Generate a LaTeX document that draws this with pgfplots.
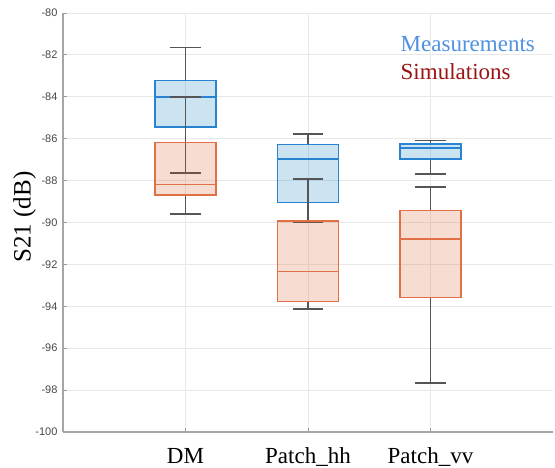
\documentclass[border=0pt]{standalone}
\usepackage{pgfplots}
\pgfplotsset{compat=1.18}
\usepgfplotslibrary{statistics}
\usepackage{fontspec}
\setmainfont{Liberation Serif}
\newfontfamily\ticksans{Liberation Sans}

\definecolor{mblue}{RGB}{0,114,189}
\definecolor{mblueedge}{RGB}{40,132,208}
\definecolor{sorange}{RGB}{217,83,25}
\definecolor{sorangeedge}{RGB}{226,112,70}
\definecolor{wgray}{RGB}{85,85,85}
\definecolor{legblue}{RGB}{80,145,225}
\definecolor{legred}{RGB}{155,20,20}

\pgfplotsset{
  meas/.style={solid, mark=none, draw=mblueedge, fill=mblue, fill opacity=0.2, line width=1.5bp,
    boxplot/every median/.style={draw=mblueedge, line width=1.6bp}},
  simu/.style={solid, mark=none, draw=sorangeedge, fill=sorange, fill opacity=0.2, line width=1.5bp,
    boxplot/every median/.style={draw=sorangeedge, line width=1.6bp}},
  whisk/.style={boxplot/every whisker/.style={draw=wgray, line width=1.7bp}},
}

\begin{document}
\begin{tikzpicture}
% page frame
\path[use as bounding box] (-63bp,-36bp) rectangle (492bp,432bp);
\begin{axis}[
  at={(0,0)}, anchor=south west, scale only axis,
  width=490bp, height=419bp,
  xmin=0, xmax=4, ymin=-100, ymax=-80,
  xtick={1,2,3}, xticklabels={DM,Patch\_hh,Patch\_vv},
  ytick={-100,-98,-96,-94,-92,-90,-88,-86,-84,-82,-80},
  yticklabels={-100,-98,-96,-94,-92,-90,-88,-86,-84,-82,-80},
  axis x line*=bottom, axis y line*=left,
  axis line style={black!35, line width=1.3bp},
  tick align=inside, major tick length=4bp,
  tick style={black!40, line width=0.8bp},
  grid=major, major grid style={black!9, line width=0.9bp},
  /pgf/number format/assume math mode=true,
  yticklabel style={font=\ticksans\fontsize{11bp}{13bp}\selectfont, text=black!72, xshift=-2bp},
  xticklabel style={font=\fontsize{23bp}{27bp}\selectfont, anchor=base, yshift=-31bp},
  ylabel={S21 (dB)},
  ylabel style={font=\fontsize{25bp}{30bp}\selectfont,
    at={(axis description cs:-0.066,0.513)}, anchor=base},
  boxplot/draw direction=y,
  clip=false,
]
% Measurements
\addplot+[meas, whisk, boxplot prepared={draw position=1, box extend=0.5, whisker extend=0.25,
    lower whisker=-87.65, lower quartile=-85.43,
    median=-84.0, upper quartile=-83.23, upper whisker=-81.65}] coordinates {};
\addplot+[meas, whisk, boxplot prepared={draw position=2, box extend=0.5, whisker extend=0.25,
    lower whisker=-89.98, lower quartile=-89.05,
    median=-86.97, upper quartile=-86.27, upper whisker=-85.78}] coordinates {};
\addplot+[meas, whisk, boxplot prepared={draw position=3, box extend=0.5, whisker extend=0.25,
    lower whisker=-87.67, lower quartile=-86.98,
    median=-86.43, upper quartile=-86.25, upper whisker=-86.09}] coordinates {};
% Simulations
\addplot+[simu, whisk, boxplot prepared={draw position=1, box extend=0.5, whisker extend=0.25,
    lower whisker=-89.59, lower quartile=-88.69,
    median=-88.19, upper quartile=-86.19, upper whisker=-84.0}] coordinates {};
\addplot+[simu, whisk, boxplot prepared={draw position=2, box extend=0.5, whisker extend=0.25,
    lower whisker=-94.13, lower quartile=-93.78,
    median=-92.33, upper quartile=-89.93, upper whisker=-87.91}] coordinates {};
\addplot+[simu, whisk, boxplot prepared={draw position=3, box extend=0.5, whisker extend=0.25,
    lower whisker=-97.65, lower quartile=-93.59,
    median=-90.80, upper quartile=-89.43, upper whisker=-88.32}] coordinates {};

\node[anchor=base west, text=legblue, font=\fontsize{23bp}{27bp}\selectfont]
  at (rel axis cs:0.682,0.9076) {Measurements};
\node[anchor=base west, text=legred, font=\fontsize{23bp}{27bp}\selectfont]
  at (rel axis cs:0.682,0.842) {Simulations};
\end{axis}
\end{tikzpicture}
\end{document}
